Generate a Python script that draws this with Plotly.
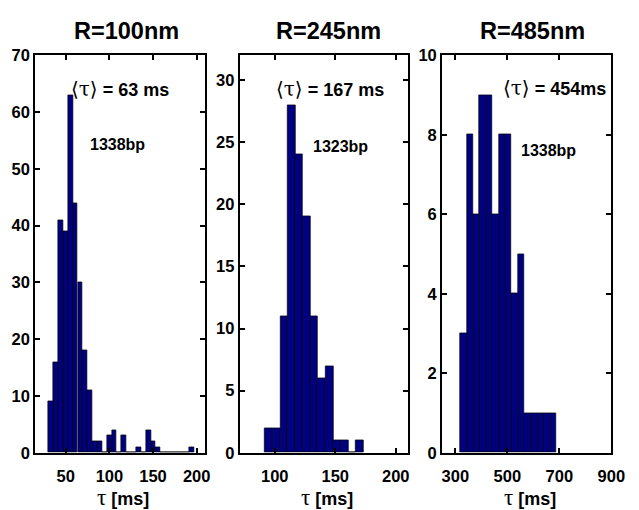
import plotly.graph_objects as go

W, H = 639, 510

titles = ["R=100nm", "R=245nm", "R=485nm"]
mean_labels = ["63 ms", "167 ms", "454ms"]
bp_labels = ["1338bp", "1323bp", "1338bp"]

# Panel 1 (R=100nm)
centers_100 = [33.0, 38.6, 44.2, 49.7, 55.3, 60.9, 66.5, 72.1, 77.6, 83.2,
               88.8, 94.4, 100.0, 105.5, 111.1, 116.7, 122.3, 127.9, 133.4, 139.0,
               144.6, 150.2, 155.8, 161.3, 166.9, 172.5, 178.1, 183.7, 189.2, 194.8]
counts_100 = [9, 16, 41, 39, 63, 44, 30, 18, 11, 2,
              2, 0, 3, 4, 0, 3, 0, 0, 1, 0,
              4, 2, 1, 0, 0, 0, 0, 0, 0, 1]
binw_100 = 5.58

# Panel 2 (R=245nm)
centers_245 = [95.1, 101.4, 107.6, 113.9, 120.2, 126.4, 132.7, 138.9, 145.2,
               151.4, 157.7, 164.0, 170.2]
counts_245 = [2, 2, 11, 28, 24, 19, 11, 6, 7, 1, 1, 0, 1]
binw_245 = 6.26

# Panel 3 (R=485nm)
centers_485 = [331.1, 355.8, 380.5, 405.1, 429.8, 454.5, 479.1, 503.8, 528.4,
               553.1, 577.8, 602.4, 627.1, 651.8, 676.4]
counts_485 = [3, 8, 6, 9, 9, 6, 8, 8, 4, 5, 1, 1, 1, 1, 1]
binw_485 = 24.66

xticks = [[50, 100, 150, 200], [100, 150, 200], [300, 500, 700, 900]]
yticks = [[0, 10, 20, 30, 40, 50, 60, 70], [0, 5, 10, 15, 20, 25, 30], [0, 2, 4, 6, 8, 10]]
xranges = [[15, 210], [71, 210], [249, 900]]
yranges = [[0, 70], [0, 32], [0, 10]]

# layout geometry (pixels)
panels_px = [(36, 210), (245, 417), (452, 625)]
top_px, bot_px = 48, 460
title_cx = [129.5, 335.5, 544]
mean_pos = [(123, 82.7), (337.5, 82.7), (566.5, 81.7)]
bp_pos = [(120, 140.7), (348, 143), (561, 146.7)]

def px(x):
    return x / W

def py(y):
    return (H - y) / H

SANS = "Liberation Sans, Arial, Helvetica, sans-serif"
BAR_COLOR = "#000080"

fig = go.Figure()
series = [(centers_100, counts_100, binw_100),
          (centers_245, counts_245, binw_245),
          (centers_485, counts_485, binw_485)]

for i, (cx, cy, bw) in enumerate(series):
    suffix = "" if i == 0 else str(i + 1)
    fig.add_trace(go.Bar(
        x=cx, y=cy, width=bw,
        marker=dict(color=BAR_COLOR, line=dict(color="#000000", width=0.7)),
        xaxis="x" + suffix, yaxis="y" + suffix, showlegend=False,
    ))
    axis_common = dict(
        showline=True, linewidth=2, linecolor="black", mirror="allticks",
        ticks="inside", ticklen=5, tickwidth=1.5, tickcolor="black",
        showgrid=False, zeroline=False,
        tickfont=dict(family=SANS, size=16.5, color="black", weight="bold"),
    )
    l, r = panels_px[i]
    fig.update_layout(**{
        "xaxis" + suffix: dict(
            domain=[px(l), px(r)], range=xranges[i], tickvals=xticks[i],
            anchor="y" + suffix, ticklabelstandoff=7, **axis_common),
        "yaxis" + suffix: dict(
            domain=[py(bot_px), py(top_px)], range=yranges[i], tickvals=yticks[i],
            anchor="x" + suffix, **axis_common),
    })

annotations = []
for i in range(3):
    l, r = panels_px[i]
    annotations.append(dict(
        text="<b>" + titles[i] + "</b>", x=px(title_cx[i]), y=py(23),
        xref="paper", yref="paper", xanchor="center", yanchor="middle",
        showarrow=False, font=dict(family=SANS, size=23.5, color="black")))
    mx, my = mean_pos[i]
    annotations.append(dict(
        text=("<span style=\"font-family:'DejaVu Serif';font-weight:normal;font-size:20px\">\u27e8\u03c4\u27e9</span>"
              "<b> = " + mean_labels[i] + "</b>"),
        x=px(mx), y=py(my), xref="paper", yref="paper",
        xanchor="center", yanchor="middle", showarrow=False,
        font=dict(family=SANS, size=18, color="black")))
    bx, by = bp_pos[i]
    annotations.append(dict(
        text="<b>" + bp_labels[i] + "</b>", x=px(bx), y=py(by),
        xref="paper", yref="paper", xanchor="center", yanchor="middle",
        showarrow=False, font=dict(family=SANS, size=16, color="black")))
    annotations.append(dict(
        text=("<span style=\"font-family:'Liberation Serif';font-size:23px\">\u03c4</span>"
              "<b> [ms]</b>"),
        x=px((l + r) / 2 + 3), y=py(506), xref="paper", yref="paper",
        xanchor="center", yanchor="middle", showarrow=False,
        font=dict(family=SANS, size=18, color="black")))

fig.update_layout(
    width=W, height=H,
    margin=dict(l=0, r=0, t=0, b=0),
    paper_bgcolor="white", plot_bgcolor="white",
    bargap=0, barmode="overlay",
    annotations=annotations,
)

fig.write_html("out.html")
